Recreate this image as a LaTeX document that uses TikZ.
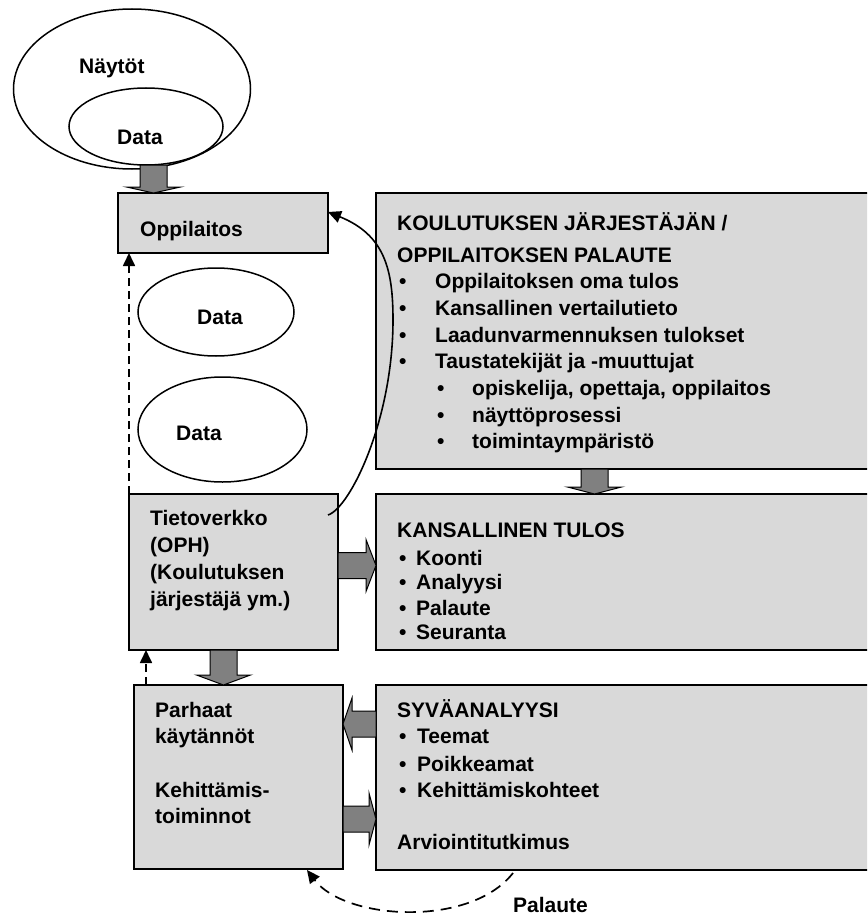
\documentclass[tikz,border=0pt]{standalone}
\usepackage{fontspec}
\setmainfont{Liberation Sans}
\usetikzlibrary{arrows.meta,calc,shapes.geometric}

\definecolor{boxgray}{RGB}{217,217,217}
\definecolor{arrowgray}{RGB}{128,128,128}

\tikzset{
  box/.style={draw, line width=1.8pt, fill=boxgray, rectangle, anchor=north west,
              inner sep=0pt, outer sep=0pt},
  oval/.style={draw, line width=1.5pt, fill=white, ellipse, inner sep=0pt, outer sep=0pt},
  txt/.style={anchor=base west, inner sep=0pt, font=\bfseries\fontsize{21}{27}\selectfont},
  blockarrow/.style={draw, line width=1pt, fill=arrowgray, line join=miter},
  feedback/.style={line width=1.7pt, dash pattern=on 8pt off 5pt,
                   -{Triangle[length=13pt,width=12pt]}},
  link/.style={line width=1.6pt, -{Triangle[length=13pt,width=12pt]}}
}

% downward block arrow: from anchor, to anchor, centre x, head length
\newcommand\vblock[4]{%
  \draw[blockarrow] let \p1=(#1), \p2=(#2) in
    (#3pt-13.5pt,\y1) -- (#3pt+13.5pt,\y1) -- (#3pt+13.5pt,\y2+#4pt)
    -- (#3pt+27pt,\y2+#4pt) -- (#3pt,\y2) -- (#3pt-27pt,\y2+#4pt)
    -- (#3pt-13.5pt,\y2+#4pt) -- cycle;}
% rightward block arrow: from anchor, to anchor, centre y (from top), head length
\newcommand\rblock[4]{%
  \draw[blockarrow] let \p1=(#1), \p2=(#2) in
    (\x1,-#3pt+13pt) -- (\x2-#4pt,-#3pt+13pt) -- (\x2-#4pt,-#3pt+26pt)
    -- (\x2,-#3pt) -- (\x2-#4pt,-#3pt-26pt) -- (\x2-#4pt,-#3pt-13pt)
    -- (\x1,-#3pt-13pt) -- cycle;}
% leftward block arrow
\newcommand\lblock[4]{%
  \draw[blockarrow] let \p1=(#1), \p2=(#2) in
    (\x1,-#3pt+13pt) -- (\x2+#4pt,-#3pt+13pt) -- (\x2+#4pt,-#3pt+26pt)
    -- (\x2,-#3pt) -- (\x2+#4pt,-#3pt-26pt) -- (\x2+#4pt,-#3pt-13pt)
    -- (\x1,-#3pt-13pt) -- cycle;}

\newcommand\bul[1]{\makebox[#1][l]{•}}

\begin{document}
\begin{tikzpicture}[x=1pt,y=-1pt]
\useasboundingbox (0,0) rectangle (867,915);
\clip (0,0) rectangle (867,915);

% evidence and data
\node[oval, minimum width=237pt, minimum height=160pt] (nayt) at (132,89) {};
\node[oval, minimum width=154pt, minimum height=77pt] (inner) at (146,126.5) {};
\node[txt] (naytt) at (79,74) {Näytöt};
\node[txt] (innert) at (117,144) {Data};

% boxes
\node[box, minimum width=210pt, minimum height=60pt] (opp) at (118,193) {};
\node[box, minimum width=504pt, minimum height=276pt] (koul) at (376,193) {};
\node[box, minimum width=209pt, minimum height=156pt] (tiet) at (129,494) {};
\node[box, minimum width=504pt, minimum height=156pt] (kans) at (376,494) {};
\node[box, minimum width=209pt, minimum height=184pt] (parh) at (134,685) {};
\node[box, minimum width=504pt, minimum height=185pt] (syv) at (376,685) {};

% data ovals between the school and the network
\node[oval, minimum width=156pt, minimum height=88pt] (data1) at (216,312) {};
\node[oval, minimum width=169pt, minimum height=105pt] (data2) at (222.5,429.5) {};
\node[txt] (data1t) at (197,324) {Data};
\node[txt] (data2t) at (176,440) {Data};

% box texts
\node[txt] (oppt) at (140,236) {Oppilaitos};

\node[txt] (koul1) at (397,230) {KOULUTUKSEN JÄRJESTÄJÄN /};
\node[txt] (koul2) at (397,262) {OPPILAITOKSEN PALAUTE};
\node[txt] (koul3) at (399,288) {\bul{36pt}Oppilaitoksen oma tulos};
\node[txt] (koul4) at (399,315) {\bul{36pt}Kansallinen vertailutieto};
\node[txt] (koul5) at (399,342) {\bul{36pt}Laadunvarmennuksen tulokset};
\node[txt] (koul6) at (399,368) {\bul{36pt}Taustatekijät ja -muuttujat};
\node[txt] (koul7) at (437,395) {\bul{35pt}opiskelija, opettaja, oppilaitos};
\node[txt] (koul8) at (437,422) {\bul{35pt}näyttöprosessi};
\node[txt] (koul9) at (437,448) {\bul{35pt}toimintaympäristö};

\node[txt] (tiet1) at (150,525) {Tietoverkko};
\node[txt] (tiet2) at (150,552) {(OPH)};
\node[txt] (tiet3) at (150,579) {(Koulutuksen};
\node[txt] (tiet4) at (150,606) {järjestäjä ym.)};

\node[txt] (kans1) at (397,537) {KANSALLINEN TULOS};
\node[txt] (kans2) at (399,565) {\bul{17pt}Koonti};
\node[txt] (kans3) at (399,589) {\bul{17pt}Analyysi};
\node[txt] (kans4) at (399,615) {\bul{17pt}Palaute};
\node[txt] (kans5) at (399,639) {\bul{17pt}Seuranta};

\node[txt] (parh1) at (155,717) {Parhaat};
\node[txt] (parh2) at (155,743) {käytännöt};
\node[txt] (parh3) at (155,797) {Kehittämis-};
\node[txt] (parh4) at (155,823) {toiminnot};

\node[txt] (syv1) at (397,717) {SYVÄANALYYSI};
\node[txt] (syv2) at (399,743) {\bul{18pt}Teemat};
\node[txt] (syv3) at (399,771) {\bul{18pt}Poikkeamat};
\node[txt] (syv4) at (399,797) {\bul{18pt}Kehittämiskohteet};
\node[txt] (syv5) at (397,849) {Arviointitutkimus};

\node[txt] (pal) at (513,912) {Palaute};

% block arrows
\vblock{inner.south}{opp.north}{153.5}{6}
\vblock{koul.south}{kans.north}{594.5}{7}
\vblock{tiet.south}{parh.north}{223.5}{10}
\rblock{tiet.east}{kans.west}{565.5}{10}
\lblock{syv.west}{parh.east}{724}{9}
\rblock{parh.east}{syv.west}{819}{7}

% feedback connectors
\draw[feedback] (tiet.north west) -- (tiet.north west |- opp.south);
\coordinate (pb) at ($(parh.north west)+(12,0)$);
\draw[feedback] (pb) -- (pb |- tiet.south);

\coordinate (cstart) at ($(tiet.north east)+(-10,21)$);
\coordinate (cend) at ($(opp.north east)+(0,19)$);
\draw[link] (cstart) .. controls (350,508) and (393,420) .. (393,320)
            .. controls (393,270) and (385,235) .. (cend);

\coordinate (ps) at ($(syv.south west)+(137,3)$);
\coordinate (pe) at ($(parh.south east)+(-36,1)$);
\draw[feedback, dash pattern=on 11pt off 7pt] (ps) .. controls (470,928) and (345,920) .. (pe);
\end{tikzpicture}
\end{document}
